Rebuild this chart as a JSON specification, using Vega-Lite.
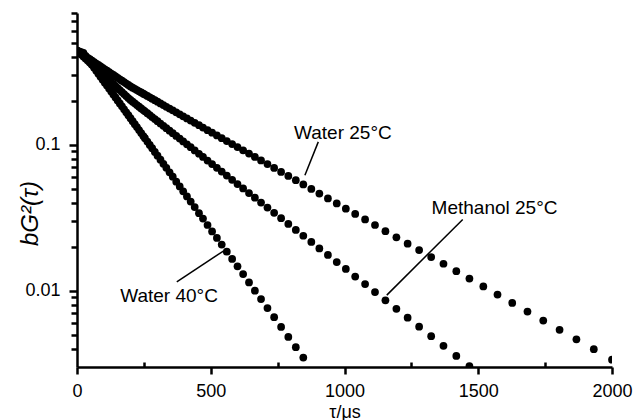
{
"$schema":"https://vega.github.io/schema/vega-lite/v6.json",
"width":535,"height":354,
"autosize":{"type":"none"},
"padding":{"left":77,"top":13,"right":22,"bottom":53},
"config":{"view":{"stroke":null},"font":"Liberation Sans","axis":{"grid":false,"labelColor":"#000000","labelFont":"Liberation Sans","labelFontSize":18,"titleFont":"Liberation Sans","titleFontSize":18,"titleFontWeight":"normal","titleColor":"#000000"}},
"datasets":{
"pts":[
{"s":"a","t":0,"y":0.4416},{"s":"a","t":8,"y":0.4318},{"s":"a","t":16,"y":0.4221},{"s":"a","t":24,"y":0.4127},{"s":"a","t":32,"y":0.4035},{"s":"a","t":40,"y":0.3945},{"s":"a","t":48,"y":0.3857},{"s":"a","t":56,"y":0.3771},{"s":"a","t":64,"y":0.3687},{"s":"a","t":72,"y":0.3604},{"s":"a","t":80,"y":0.3524},{"s":"a","t":88,"y":0.3445},{"s":"a","t":96,"y":0.3368},{"s":"a","t":104,"y":0.3293},{"s":"a","t":112,"y":0.322},{"s":"a","t":120,"y":0.3148},{"s":"a","t":128,"y":0.3078},{"s":"a","t":136,"y":0.3009},{"s":"a","t":144,"y":0.2942},{"s":"a","t":152,"y":0.2876},{"s":"a","t":160,"y":0.2812},{"s":"a","t":168,"y":0.2749},{"s":"a","t":176,"y":0.2688},{"s":"a","t":184,"y":0.2628},{"s":"a","t":192,"y":0.2569},{"s":"a","t":200,"y":0.2512},{"s":"a","t":208,"y":0.2464},{"s":"a","t":216,"y":0.2418},{"s":"a","t":224,"y":0.2372},{"s":"a","t":232,"y":0.2327},{"s":"a","t":240,"y":0.2282},{"s":"a","t":248,"y":0.2239},{"s":"a","t":254,"y":0.2207},{"s":"a","t":263,"y":0.216},{"s":"a","t":272,"y":0.2114},{"s":"a","t":281,"y":0.2069},{"s":"a","t":291,"y":0.202},{"s":"a","t":301,"y":0.1972},{"s":"a","t":312,"y":0.1921},{"s":"a","t":323,"y":0.1871},{"s":"a","t":334,"y":0.1822},{"s":"a","t":346,"y":0.1771},{"s":"a","t":358,"y":0.1721},{"s":"a","t":371,"y":0.1668},{"s":"a","t":384,"y":0.1617},{"s":"a","t":397,"y":0.1567},{"s":"a","t":411,"y":0.1516},{"s":"a","t":425,"y":0.1466},{"s":"a","t":440,"y":0.1414},{"s":"a","t":456,"y":0.1361},{"s":"a","t":471,"y":0.1313},{"s":"a","t":488,"y":0.126},{"s":"a","t":505,"y":0.121},{"s":"a","t":523,"y":0.1159},{"s":"a","t":541,"y":0.111},{"s":"a","t":560,"y":0.1061},{"s":"a","t":580,"y":0.1011},{"s":"a","t":600,"y":0.0964},{"s":"a","t":621,"y":0.0917},{"s":"a","t":643,"y":0.087},{"s":"a","t":665,"y":0.0825},{"s":"a","t":688,"y":0.0781},{"s":"a","t":712,"y":0.0737},{"s":"a","t":737,"y":0.0694},{"s":"a","t":763,"y":0.0652},{"s":"a","t":790,"y":0.0612},{"s":"a","t":818,"y":0.0572},{"s":"a","t":846,"y":0.0535},{"s":"a","t":876,"y":0.0498},{"s":"a","t":906,"y":0.0463},{"s":"a","t":938,"y":0.0429},{"s":"a","t":971,"y":0.0396},{"s":"a","t":1005,"y":0.0365},{"s":"a","t":1040,"y":0.0336},{"s":"a","t":1077,"y":0.0308},{"s":"a","t":1114,"y":0.0282},{"s":"a","t":1153,"y":0.0256},{"s":"a","t":1194,"y":0.0232},{"s":"a","t":1236,"y":0.021},{"s":"a","t":1279,"y":0.019},{"s":"a","t":1324,"y":0.017},{"s":"a","t":1370,"y":0.0153},{"s":"a","t":1418,"y":0.0136},{"s":"a","t":1467,"y":0.0121},{"s":"a","t":1519,"y":0.0107},{"s":"a","t":1572,"y":0.0094},{"s":"a","t":1627,"y":0.00824},{"s":"a","t":1684,"y":0.00719},{"s":"a","t":1743,"y":0.00624},{"s":"a","t":1804,"y":0.00539},{"s":"a","t":1867,"y":0.00464},{"s":"a","t":1932,"y":0.00397},{"s":"a","t":2000,"y":0.00337},
{"s":"b","t":0,"y":0.4416},{"s":"b","t":8,"y":0.4281},{"s":"b","t":16,"y":0.415},{"s":"b","t":24,"y":0.4022},{"s":"b","t":32,"y":0.3899},{"s":"b","t":40,"y":0.3779},{"s":"b","t":48,"y":0.3663},{"s":"b","t":56,"y":0.3551},{"s":"b","t":64,"y":0.3442},{"s":"b","t":72,"y":0.3337},{"s":"b","t":80,"y":0.3234},{"s":"b","t":88,"y":0.3135},{"s":"b","t":96,"y":0.3039},{"s":"b","t":104,"y":0.2946},{"s":"b","t":112,"y":0.2856},{"s":"b","t":120,"y":0.2768},{"s":"b","t":128,"y":0.2683},{"s":"b","t":136,"y":0.2601},{"s":"b","t":144,"y":0.2522},{"s":"b","t":152,"y":0.2444},{"s":"b","t":160,"y":0.2369},{"s":"b","t":168,"y":0.2297},{"s":"b","t":176,"y":0.2226},{"s":"b","t":184,"y":0.2158},{"s":"b","t":192,"y":0.2092},{"s":"b","t":200,"y":0.2028},{"s":"b","t":208,"y":0.1975},{"s":"b","t":216,"y":0.1923},{"s":"b","t":224,"y":0.1873},{"s":"b","t":232,"y":0.1824},{"s":"b","t":240,"y":0.1776},{"s":"b","t":248,"y":0.1729},{"s":"b","t":254,"y":0.1695},{"s":"b","t":263,"y":0.1645},{"s":"b","t":272,"y":0.1597},{"s":"b","t":281,"y":0.155},{"s":"b","t":291,"y":0.15},{"s":"b","t":301,"y":0.1451},{"s":"b","t":312,"y":0.1399},{"s":"b","t":323,"y":0.1349},{"s":"b","t":334,"y":0.13},{"s":"b","t":346,"y":0.125},{"s":"b","t":358,"y":0.1201},{"s":"b","t":371,"y":0.115},{"s":"b","t":384,"y":0.1102},{"s":"b","t":397,"y":0.1055},{"s":"b","t":411,"y":0.1007},{"s":"b","t":425,"y":0.0962},{"s":"b","t":440,"y":0.0915},{"s":"b","t":456,"y":0.0868},{"s":"b","t":471,"y":0.0826},{"s":"b","t":488,"y":0.078},{"s":"b","t":505,"y":0.0738},{"s":"b","t":523,"y":0.0695},{"s":"b","t":541,"y":0.0655},{"s":"b","t":560,"y":0.0615},{"s":"b","t":580,"y":0.0575},{"s":"b","t":600,"y":0.0538},{"s":"b","t":621,"y":0.0502},{"s":"b","t":643,"y":0.0467},{"s":"b","t":665,"y":0.0434},{"s":"b","t":688,"y":0.0402},{"s":"b","t":712,"y":0.0371},{"s":"b","t":737,"y":0.0342},{"s":"b","t":763,"y":0.0314},{"s":"b","t":790,"y":0.0287},{"s":"b","t":818,"y":0.0261},{"s":"b","t":846,"y":0.0238},{"s":"b","t":876,"y":0.0216},{"s":"b","t":906,"y":0.0195},{"s":"b","t":938,"y":0.0176},{"s":"b","t":971,"y":0.0157},{"s":"b","t":1005,"y":0.0141},{"s":"b","t":1040,"y":0.0125},{"s":"b","t":1077,"y":0.0111},{"s":"b","t":1114,"y":0.00979},{"s":"b","t":1153,"y":0.0086},{"s":"b","t":1194,"y":0.00751},{"s":"b","t":1236,"y":0.00653},{"s":"b","t":1279,"y":0.00567},{"s":"b","t":1324,"y":0.00488},{"s":"b","t":1370,"y":0.00419},{"s":"b","t":1418,"y":0.00357},{"s":"b","t":1467,"y":0.00304},
{"s":"c","t":0,"y":0.4416},{"s":"c","t":8,"y":0.4365},{"s":"c","t":16,"y":0.4315},{"s":"c","t":24,"y":0.4256},{"s":"c","t":32,"y":0.4062},{"s":"c","t":40,"y":0.3876},{"s":"c","t":48,"y":0.3699},{"s":"c","t":56,"y":0.353},{"s":"c","t":64,"y":0.3369},{"s":"c","t":72,"y":0.3215},{"s":"c","t":80,"y":0.3068},{"s":"c","t":88,"y":0.2928},{"s":"c","t":96,"y":0.2794},{"s":"c","t":104,"y":0.2666},{"s":"c","t":112,"y":0.2544},{"s":"c","t":120,"y":0.2428},{"s":"c","t":128,"y":0.2317},{"s":"c","t":136,"y":0.2211},{"s":"c","t":144,"y":0.211},{"s":"c","t":152,"y":0.2014},{"s":"c","t":160,"y":0.1921},{"s":"c","t":168,"y":0.1834},{"s":"c","t":176,"y":0.175},{"s":"c","t":184,"y":0.167},{"s":"c","t":192,"y":0.1594},{"s":"c","t":200,"y":0.1521},{"s":"c","t":208,"y":0.1451},{"s":"c","t":216,"y":0.1385},{"s":"c","t":224,"y":0.1322},{"s":"c","t":232,"y":0.1261},{"s":"c","t":240,"y":0.1203},{"s":"c","t":248,"y":0.1148},{"s":"c","t":254,"y":0.1109},{"s":"c","t":263,"y":0.1052},{"s":"c","t":272,"y":0.0998},{"s":"c","t":281,"y":0.0947},{"s":"c","t":291,"y":0.0893},{"s":"c","t":301,"y":0.0842},{"s":"c","t":312,"y":0.079},{"s":"c","t":323,"y":0.0741},{"s":"c","t":334,"y":0.0695},{"s":"c","t":346,"y":0.0647},{"s":"c","t":358,"y":0.0604},{"s":"c","t":371,"y":0.0559},{"s":"c","t":384,"y":0.0518},{"s":"c","t":397,"y":0.048},{"s":"c","t":411,"y":0.0443},{"s":"c","t":425,"y":0.0408},{"s":"c","t":440,"y":0.0374},{"s":"c","t":456,"y":0.034},{"s":"c","t":471,"y":0.0312},{"s":"c","t":488,"y":0.0282},{"s":"c","t":505,"y":0.0255},{"s":"c","t":523,"y":0.023},{"s":"c","t":541,"y":0.0207},{"s":"c","t":560,"y":0.0185},{"s":"c","t":580,"y":0.0165},{"s":"c","t":600,"y":0.0147},{"s":"c","t":621,"y":0.013},{"s":"c","t":643,"y":0.0114},{"s":"c","t":665,"y":0.01},{"s":"c","t":688,"y":0.00876},{"s":"c","t":712,"y":0.00761},{"s":"c","t":737,"y":0.00658},{"s":"c","t":763,"y":0.00565},{"s":"c","t":790,"y":0.00482},{"s":"c","t":818,"y":0.0041},{"s":"c","t":846,"y":0.00348}
],
"lead":[
{"t":902,"y":0.1047,"t2":852,"y2":0.0619},
{"t":1442,"y":0.0308,"t2":1158,"y2":0.00933},
{"t":373,"y":0.0115,"t2":547,"y2":0.0187}
],
"lab":[
{"t":994,"y":0.109,"label":"Water 25°C"},
{"t":1561,"y":0.0335,"label":"Methanol 25°C"},
{"t":344,"y":0.00836,"label":"Water 40°C"}
]
},
"resolve":{"axis":{"x":"independent","y":"independent"}},
"layer":[
{"data":{"name":"pts"},
"mark":{"type":"circle","size":60,"color":"black","opacity":1,"clip":true},
"encoding":{
"x":{"field":"t","type":"quantitative","scale":{"domain":[0,2000],"nice":false,"zero":false},
"axis":{"orient":"bottom","title":"τ/μs","values":[0,500,1000,1500,2000],"format":"d","ticks":true,"tickSize":7,"tickColor":"#000000","tickWidth":2.5,"domainColor":"#000000","domainWidth":2.5,"zindex":1,"labelFlush":false,"labelOverlap":false,"labelBaseline":"alphabetic","labelPadding":22,"titleY":50,"titleBaseline":"alphabetic"}},
"y":{"field":"y","type":"quantitative","scale":{"type":"log","domain":[0.003,0.8],"nice":false},
"axis":{"orient":"left","title":"bG²(τ)","titleFontStyle":"italic","titleFontSize":24,"values":[0.01,0.1],"labelExpr":"datum.value === 0.1 ? '0.1' : '0.01'","ticks":true,"tickSize":8,"tickColor":"#000000","tickWidth":2.5,"domainColor":"#000000","domainWidth":2.5,"zindex":1,"labelFlush":false,"labelOverlap":false,"labelPadding":9,"titleAngle":-90,"titleX":-40,"titleY":200,"titleAlign":"center","titleBaseline":"alphabetic"}}
}},
{"data":{"name":"lead"},
"mark":{"type":"rule","color":"black","strokeWidth":1.5},
"encoding":{
"x":{"field":"t","type":"quantitative","axis":{"orient":"bottom","values":[250,750,1250,1750],"ticks":true,"tickSize":-5,"tickColor":"#000000","tickWidth":2.5,"zindex":1,"labels":false,"domain":false,"title":null}},
"y":{"field":"y","type":"quantitative","axis":{"orient":"left","values":[0.004,0.005,0.006,0.007,0.008,0.009,0.02,0.03,0.04,0.05,0.06,0.07,0.08,0.09,0.2,0.3,0.4,0.5,0.6,0.7,0.8],"ticks":true,"tickSize":6,"tickColor":"#000000","tickWidth":2.5,"zindex":1,"labels":false,"domain":false,"title":null}},
"x2":{"field":"t2"},"y2":{"field":"y2"}}},
{"data":{"name":"lab"},
"mark":{"type":"text","fontSize":19,"align":"center","baseline":"alphabetic","font":"Liberation Sans","color":"black"},
"encoding":{"x":{"field":"t","type":"quantitative","axis":null},"y":{"field":"y","type":"quantitative","axis":null},"text":{"field":"label"}}}
]
}
